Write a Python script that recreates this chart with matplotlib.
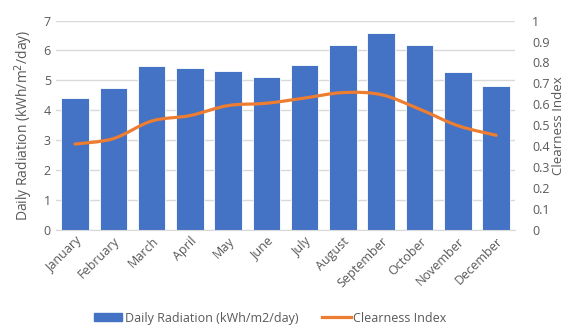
import numpy as np
import matplotlib
matplotlib.use("Agg")
import matplotlib.pyplot as plt
from matplotlib.path import Path
from matplotlib.patches import PathPatch
from matplotlib.lines import Line2D
from matplotlib.patches import Patch

months = ["January", "February", "March", "April", "May", "June", "July",
          "August", "September", "October", "November", "December"]
radiation = [4.40, 4.73, 5.47, 5.43, 5.31, 5.12, 5.53, 6.19, 6.58, 6.19, 5.28, 4.81]
clearness = [0.41, 0.436, 0.52, 0.546, 0.594, 0.605, 0.63, 0.656, 0.646, 0.577, 0.498, 0.452]

blue = "#4472C4"
orange = "#ED7D31"
grey = "#595959"

plt.rcParams['font.family'] = ['Open Sans', 'DejaVu Sans']

fig = plt.figure(figsize=(5.7, 3.27), dpi=100)
ax = fig.add_axes([0.098, 0.297, 0.806, 0.64])
x = np.arange(len(months))

ax.bar(x, radiation, width=0.72, color=blue, edgecolor="white", linewidth=0.6, zorder=2)
ax.set_ylim(0, 7)
ax.set_xlim(-0.5, len(months) - 0.5)
ax.set_yticks(range(0, 8))
ax.yaxis.grid(True, color="#D9D9D9", linewidth=1)
ax.set_axisbelow(True)
for s in ["top", "right", "left"]:
    ax.spines[s].set_visible(False)
ax.spines["bottom"].set_color("#D9D9D9")
ax.tick_params(axis="both", length=0, colors=grey, labelsize=9)
ax.set_xticks(x)
ax.set_xticklabels(months, rotation=45, ha="right", rotation_mode="anchor")
ax.set_ylabel("Daily Radiation (kWh/m$^2$/day)", color=grey, fontsize=10, labelpad=6)

ax2 = ax.twinx()
ax2.set_ylim(0, 1)
ax2.set_yticks(np.arange(0, 11) / 10)
ax2.set_yticklabels(["0", "0.1", "0.2", "0.3", "0.4", "0.5", "0.6", "0.7", "0.8", "0.9", "1"])
for s in ax2.spines.values():
    s.set_visible(False)
ax2.tick_params(axis="y", length=0, colors=grey, labelsize=9, pad=12)
ax2.set_ylabel("Clearness Index", color=grey, fontsize=9.5, labelpad=2)

# smoothed line (Catmull-Rom to cubic Bezier)
pts = np.column_stack([x, clearness]).astype(float)
verts = [tuple(pts[0])]
codes = [Path.MOVETO]
for i in range(len(pts) - 1):
    p0 = pts[i - 1] if i > 0 else pts[i]
    p1, p2 = pts[i], pts[i + 1]
    p3 = pts[i + 2] if i + 2 < len(pts) else pts[i + 1]
    c1 = p1 + (p2 - p0) / 6
    c2 = p2 - (p3 - p1) / 6
    verts += [tuple(c1), tuple(c2), tuple(p2)]
    codes += [Path.CURVE4] * 3
ax2.add_patch(PathPatch(Path(verts, codes), facecolor="none", edgecolor=orange,
                        linewidth=2.3, capstyle="round", zorder=3))

handles = [Patch(color=blue), Line2D([], [], color=orange, linewidth=2.3)]
fig.legend(handles, ["Daily Radiation (kWh/m2/day)", "Clearness Index"],
           loc="center", bbox_to_anchor=(0.474, 0.027), ncol=2, frameon=False,
           fontsize=9, labelcolor=grey, handlelength=2.3, handleheight=0.65,
           columnspacing=1.9, handletextpad=0.2)

fig.savefig("out.png", dpi=100)
